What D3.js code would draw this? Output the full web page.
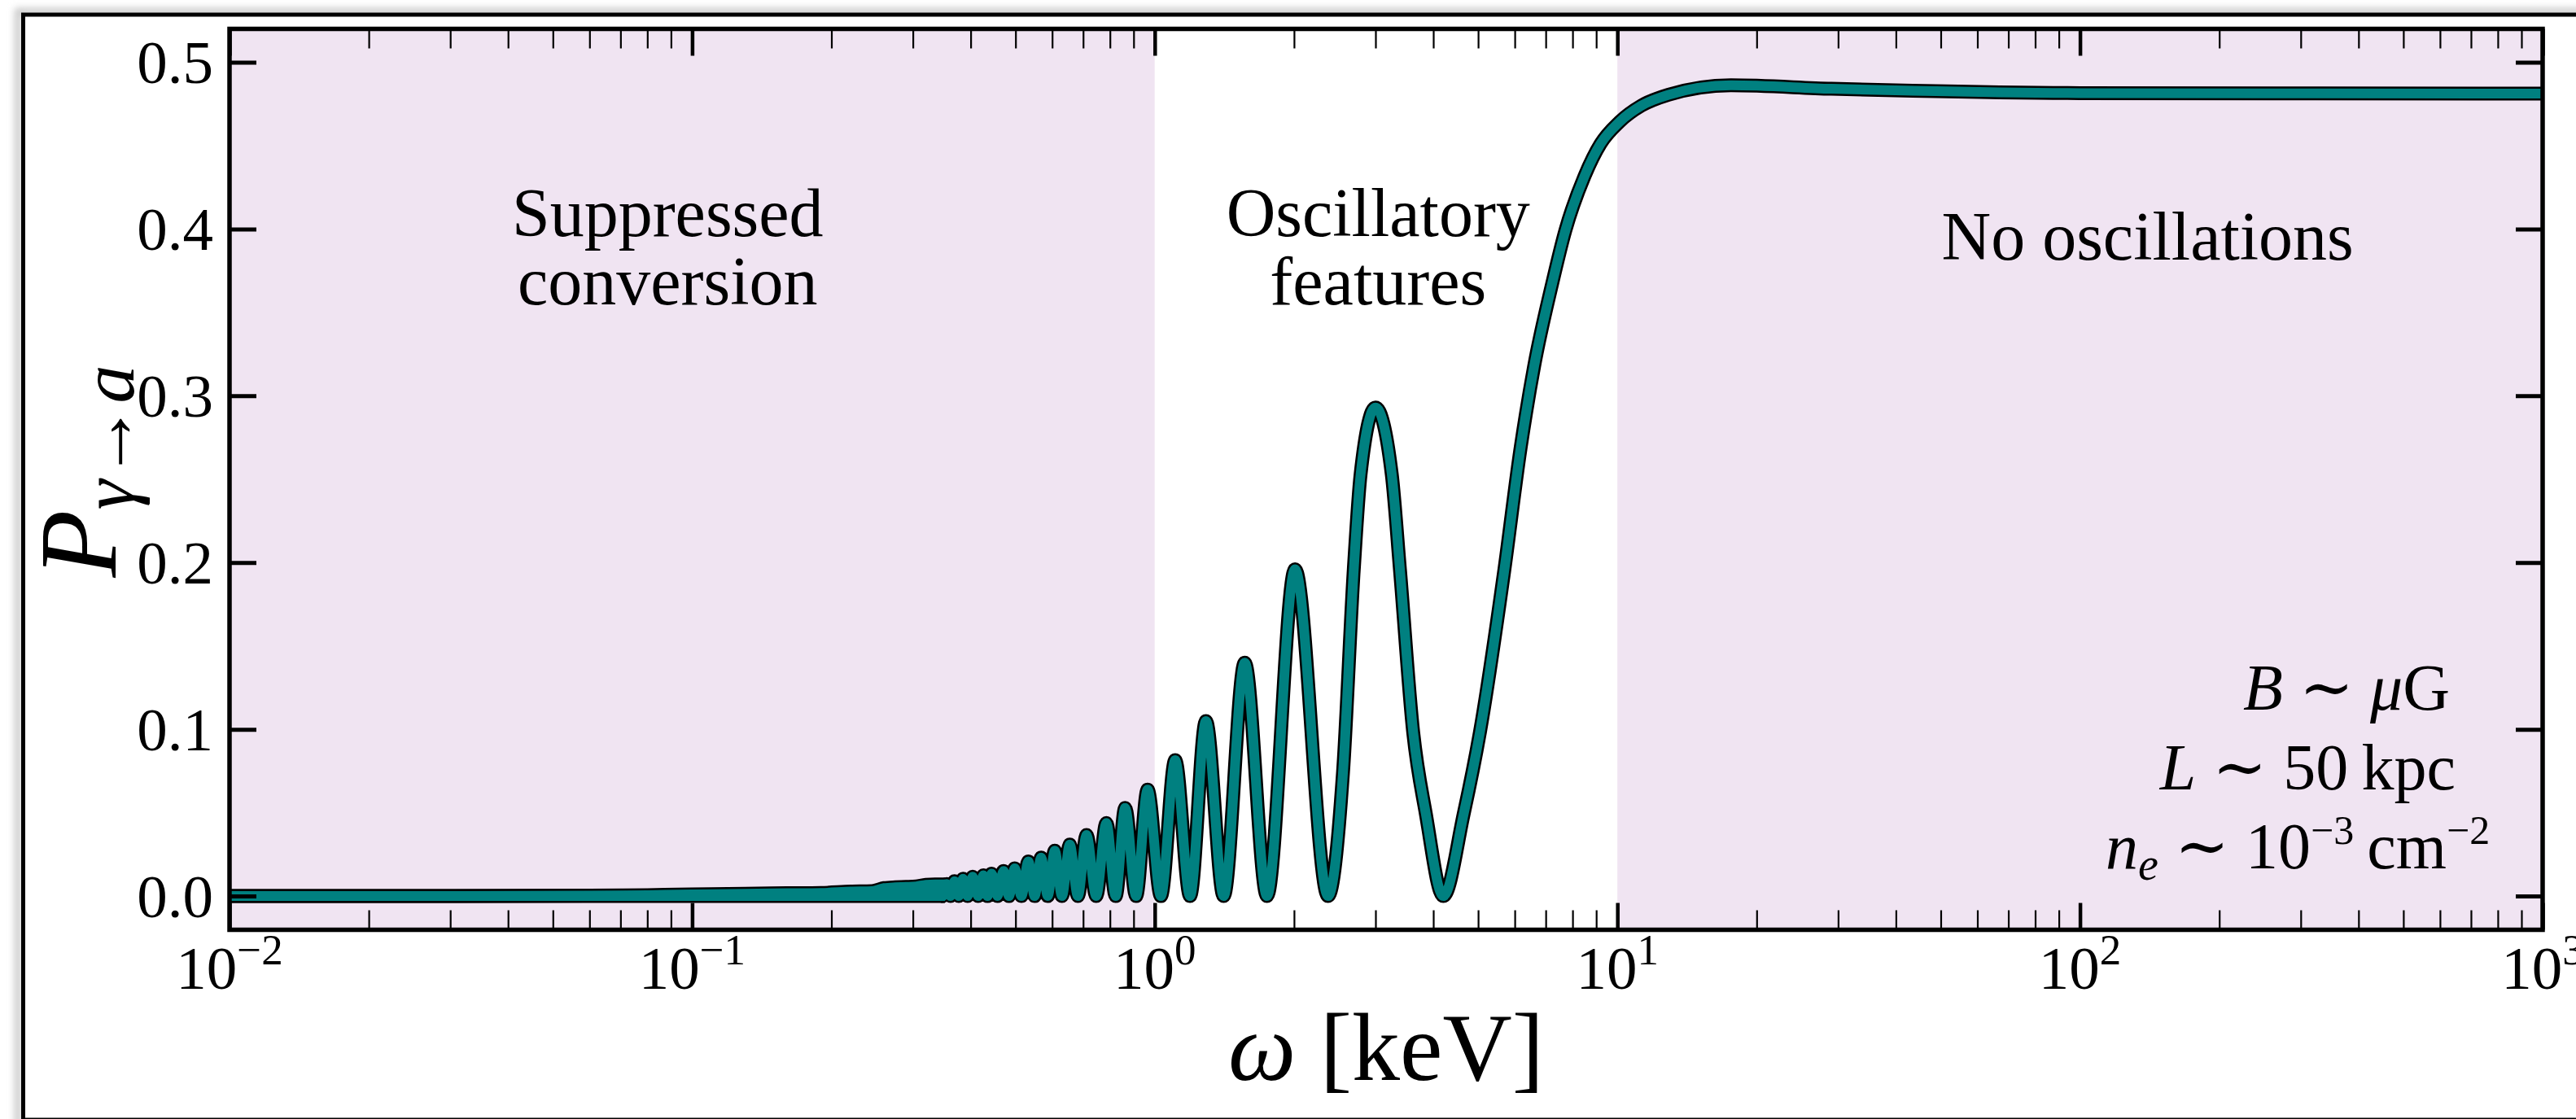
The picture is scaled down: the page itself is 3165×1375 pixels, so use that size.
<!DOCTYPE html>
<html><head><meta charset="utf-8">
<script src="https://cdn.jsdelivr.net/npm/d3@7"></script>
<style>
html,body{margin:0;padding:0;background:#fff;overflow:hidden;}
svg{display:block;}
text{font-family:"Liberation Serif","DejaVu Serif","Times New Roman",serif;fill:#000;}
</style></head><body>
<svg id="chart" width="3165" height="1375"></svg>
<script>
// ---------------- data ----------------
const xDomain = [0.01, 1000];
const yDomain = [-0.0202, 0.520];
const xTickValues = [0.01, 0.1, 1, 10, 100, 1000];
const xTickExponents = ["\u22122", "\u22121", "0", "1", "2", "3"];
const yTickValues = [0, 0.1, 0.2, 0.3, 0.4, 0.5];
const yTickLabels = ["0.0", "0.1", "0.2", "0.3", "0.4", "0.5"];

const regionStart = [0.01, 1, 10];
const regionEnd = [1, 10, 1000];
const regionShaded = [true, false, true];
const regionText = [["Suppressed", "conversion"], ["Oscillatory", "features"], ["No oscillations"]];
const regionTextOmega = [0.0885, 3.04, 140];
const regionTextP = [0.396, 0.396, 0.3818];

// unresolved fast oscillations (upper envelope of the band, lower edge at 0)
const bandOmega = [0.01, 0.03, 0.06, 0.08, 0.10, 0.13, 0.16, 0.19, 0.22, 0.245, 0.26, 0.275, 0.29, 0.305, 0.32, 0.335, 0.352];
const bandTop   = [0.0, 0.0, 0.0003, 0.0006, 0.0010, 0.0014, 0.0017, 0.0019, 0.0027, 0.0030, 0.0048, 0.0053, 0.0055, 0.0058, 0.0068, 0.0070, 0.0070];

// resolved oscillations and high-energy plateau
const curveOmega = [0.348, 0.355, 0.362, 0.369, 0.377, 0.385, 0.394, 0.404, 0.415, 0.426, 0.435, 0.444, 0.457, 0.471, 0.484, 0.498,
  0.515, 0.533, 0.550, 0.568, 0.587, 0.608, 0.630, 0.655, 0.682, 0.712, 0.747, 0.786, 0.823, 0.863, 0.911, 0.965, 1.031, 1.107,
  1.192, 1.29, 1.409, 1.565, 1.748, 2.01, 2.369, 2.552, 2.693, 2.786, 3.0, 3.253, 3.388, 3.62, 3.853, 4.205, 4.656, 5.046, 5.70,
  6.18, 6.61, 7.22, 7.72, 8.49, 9.20, 10.1, 11.27, 12.9, 17.6, 29, 43.5, 100, 1000];
const curveP = [0.0, 0.0073, 0.0, 0.0090, 0.0, 0.0104, 0.0, 0.0117, 0.0, 0.0125, 0.0, 0.0135, 0.0, 0.0151, 0.0, 0.0166,
  0.0, 0.0208, 0.0, 0.0231, 0.0, 0.0273, 0.0, 0.0309, 0.0, 0.0366, 0.0, 0.0439, 0.0, 0.0529, 0.0, 0.0638, 0.0, 0.0815,
  0.0, 0.105, 0.0, 0.140, 0.0, 0.196, 0.0, 0.074, 0.196, 0.253, 0.293, 0.253, 0.196, 0.098, 0.0496, 0.0, 0.0496, 0.0984, 0.196,
  0.269, 0.318, 0.3667, 0.3992, 0.4317, 0.4512, 0.4642, 0.474, 0.4805, 0.4862, 0.4841, 0.4829, 0.4815, 0.4812];

// parameter annotation (right edge of each row, baseline)
const paramRightOmega = [630, 648, 769];
const paramP = [0.1116, 0.0639, 0.0166];

// ---------------- drawing ----------------
const plot = {left: 282, right: 3124, top: 35.5, bottom: 1142.5};
const shadeColor = "#f0e4f2";
const teal = "#008080";

const svg = d3.select("#chart");
const defs = svg.append("defs");
const blur = defs.append("filter").attr("id", "blur").attr("x", "-5%").attr("y", "-5%").attr("width", "110%").attr("height", "110%");
blur.append("feGaussianBlur").attr("stdDeviation", 4);
defs.append("clipPath").attr("id", "clip").append("rect")
  .attr("x", plot.left).attr("y", plot.top).attr("width", plot.right - plot.left).attr("height", plot.bottom - plot.top);

const x = d3.scaleLog().domain(xDomain).range([plot.left, plot.right]);
const y = d3.scaleLinear().domain(yDomain).range([plot.bottom, plot.top]);

// outer page frame with soft shadow
svg.append("rect").attr("x", 22).attr("y", 14).attr("width", 3300).attr("height", 1400)
  .attr("fill", "none").attr("stroke", "#c8c8c8").attr("stroke-width", 8).attr("filter", "url(#blur)");
svg.append("rect").attr("x", 28.5).attr("y", 18).attr("width", 3300).attr("height", 1358)
  .attr("fill", "#fff").attr("stroke", "#000").attr("stroke-width", 5);

// regions
const regions = regionStart.map((s, i) => ({s, e: regionEnd[i], shaded: regionShaded[i]}));
svg.append("g").selectAll("rect").data(regions).join("rect")
  .attr("x", d => x(d.s)).attr("width", d => x(d.e) - x(d.s))
  .attr("y", plot.top).attr("height", plot.bottom - plot.top)
  .attr("fill", d => d.shaded ? shadeColor : "#fff");

// region labels
const rl = svg.append("g");
regionText.forEach((lines, i) => {
  const t = rl.append("text").attr("text-anchor", "middle").attr("font-size", 84)
    .attr("x", x(regionTextOmega[i])).attr("y", y(regionTextP[i]));
  lines.forEach((ln, j) => {
    t.append("tspan").attr("x", x(regionTextOmega[i])).attr("dy", j === 0 ? 0 : 84).text(ln);
  });
});

// curve
const bandData = bandOmega.map((w, i) => [w, bandTop[i]]);
const zeroData = bandOmega.map(w => [w, 0]);
const curveData = curveOmega.map((w, i) => [w, curveP[i]]);
const line = d3.line().x(d => x(d[0])).y(d => y(d[1])).curve(d3.curveMonotoneX);
const area = d3.area().x(d => x(d[0])).y0(y(0)).y1(d => y(d[1])).curve(d3.curveMonotoneX);

const cg = svg.append("g").attr("clip-path", "url(#clip)");
[["#000", 17], [teal, 12]].forEach(([col, w]) => {
  cg.append("path").attr("d", area(bandData)).attr("fill", col);
  cg.append("path").attr("d", line(bandData)).attr("fill", "none").attr("stroke", col).attr("stroke-width", w).attr("stroke-linejoin", "round");
  cg.append("path").attr("d", line(zeroData)).attr("fill", "none").attr("stroke", col).attr("stroke-width", w);
  cg.append("path").attr("d", line(curveData)).attr("fill", "none").attr("stroke", col).attr("stroke-width", w)
    .attr("stroke-linejoin", "round").attr("stroke-linecap", "round");
});

// axes (ticks inward)
const minorVals = [];
for (let e = -2; e < 3; e++) for (let m = 2; m <= 9; m++) minorVals.push(m * Math.pow(10, e));

function styleAxis(g, w) {
  g.select(".domain").remove();
  g.selectAll(".tick line").attr("stroke", "#000").attr("stroke-width", w);
}
const gxb = svg.append("g").attr("transform", `translate(0,${plot.bottom})`)
  .call(d3.axisBottom(x).tickValues(xTickValues).tickSize(-33).tickFormat(() => ""));
styleAxis(gxb, 4.5);
const gxbm = svg.append("g").attr("transform", `translate(0,${plot.bottom})`)
  .call(d3.axisBottom(x).tickValues(minorVals).tickSize(-24).tickFormat(() => ""));
styleAxis(gxbm, 2.2);
const gxt = svg.append("g").attr("transform", `translate(0,${plot.top})`)
  .call(d3.axisTop(x).tickValues(xTickValues).tickSize(-33).tickFormat(() => ""));
styleAxis(gxt, 4.5);
const gxtm = svg.append("g").attr("transform", `translate(0,${plot.top})`)
  .call(d3.axisTop(x).tickValues(minorVals).tickSize(-24).tickFormat(() => ""));
styleAxis(gxtm, 2.2);
const gyl = svg.append("g").attr("transform", `translate(${plot.left},0)`)
  .call(d3.axisLeft(y).tickValues(yTickValues).tickSize(-33).tickFormat(() => ""));
styleAxis(gyl, 5);
const gyr = svg.append("g").attr("transform", `translate(${plot.right},0)`)
  .call(d3.axisRight(y).tickValues(yTickValues).tickSize(-33).tickFormat(() => ""));
styleAxis(gyr, 5);

// frame of the axes
svg.append("rect").attr("x", plot.left).attr("y", plot.top)
  .attr("width", plot.right - plot.left).attr("height", plot.bottom - plot.top)
  .attr("fill", "none").attr("stroke", "#000").attr("stroke-width", 5.5);

// y tick labels
svg.append("g").selectAll("text").data(yTickValues).join("text")
  .attr("x", plot.left - 20).attr("y", d => y(d) + 26)
  .attr("text-anchor", "end").attr("font-size", 75)
  .text((d, i) => yTickLabels[i]);

// x tick labels 10^n
svg.append("g").selectAll("text").data(xTickValues).join("text")
  .attr("x", d => x(d)).attr("y", plot.bottom + 72.5)
  .attr("text-anchor", "middle").attr("font-size", 75)
  .each(function(d, i) {
    const t = d3.select(this);
    t.append("tspan").text("10");
    t.append("tspan").attr("font-size", 53).attr("dy", -30).text(xTickExponents[i]);
  });

// axis labels
const xl = svg.append("text").attr("x", (plot.left + plot.right) / 2).attr("y", 1327)
  .attr("text-anchor", "middle").attr("font-size", 118);
xl.append("tspan").attr("font-style", "italic").text("\u03c9");
xl.append("tspan").text(" [keV]");

const yl = svg.append("text").attr("transform", `translate(142,${(plot.top + plot.bottom) / 2 - 10}) rotate(-90)`)
  .attr("text-anchor", "middle").attr("font-size", 136);
yl.append("tspan").attr("font-style", "italic").text("P");
yl.append("tspan").attr("font-size", 94).attr("dy", 22).attr("font-style", "italic").text("\u03b3");
yl.append("tspan").attr("font-size", 94).text("\u2192");
yl.append("tspan").attr("font-size", 94).attr("font-style", "italic").text("a");

// parameter annotation
const pa = svg.append("g").attr("font-size", 80);
const t1 = pa.append("text").attr("text-anchor", "end").attr("x", x(paramRightOmega[0])).attr("y", y(paramP[0]));
t1.append("tspan").attr("font-style", "italic").text("B");
t1.append("tspan").text(" \u223c ");
t1.append("tspan").attr("font-style", "italic").text("\u03bc");
t1.append("tspan").text("G");
const t2 = pa.append("text").attr("text-anchor", "end").attr("x", x(paramRightOmega[1])).attr("y", y(paramP[1]));
t2.append("tspan").attr("font-style", "italic").text("L");
t2.append("tspan").text(" \u223c 50\u2009kpc");
const t3 = pa.append("text").attr("text-anchor", "end").attr("x", x(paramRightOmega[2])).attr("y", y(paramP[2]));
t3.append("tspan").attr("font-style", "italic").text("n");
t3.append("tspan").attr("font-style", "italic").attr("font-size", 56).attr("dy", 14).text("e");
t3.append("tspan").attr("dy", -14).text(" \u223c 10");
t3.append("tspan").attr("font-size", 50).attr("dy", -30).text("\u22123");
t3.append("tspan").attr("dy", 30).text("\u2009cm");
t3.append("tspan").attr("font-size", 50).attr("dy", -30).text("\u22122");
</script>
</body></html>
